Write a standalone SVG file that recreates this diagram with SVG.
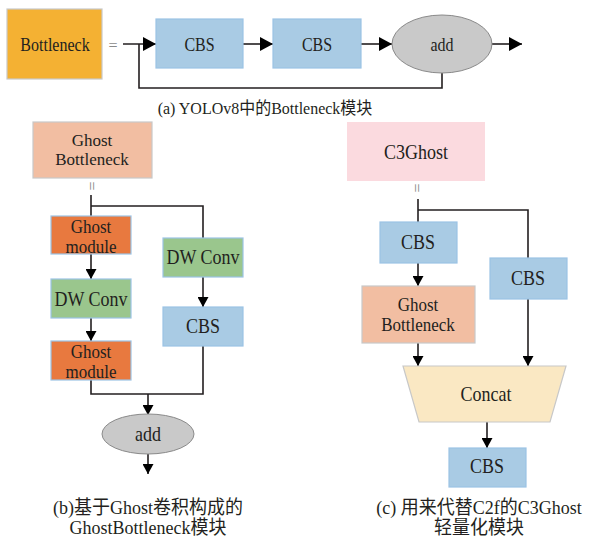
<svg xmlns="http://www.w3.org/2000/svg" width="606" height="540" viewBox="0 0 606 540">
<style>
text{font-family:"Liberation Serif","Times New Roman","DejaVu Serif",serif;fill:#231f20;text-anchor:middle}
.cjk{font-family:"Liberation Serif","Noto Sans CJK SC",serif}
.s16{font-size:16px}
.s18{font-size:18px}
.s17{font-size:17px}
.eq{fill:#8a8a8a;font-size:16px}
.cbs{fill:#a9cbe4;stroke:#9cc3e5;stroke-width:1.2}
.gm{fill:#e8793f;stroke:#9cc3e5;stroke-width:1.2}
.dw{fill:#9ac68d;stroke:#9cc3e5;stroke-width:1.2}
.gb{fill:#f2bea2;stroke:#c8c8c8;stroke-width:1.2}
.add{fill:#c9c9c9;stroke:#8a8a8a;stroke-width:1}
.ln{fill:none;stroke:#231f20;stroke-width:1.6}
</style>
<defs>
<marker id="ab" markerUnits="userSpaceOnUse" markerWidth="14" markerHeight="14" refX="13" refY="7" orient="auto"><path d="M0,0 L13,7 L0,14 Z" fill="#000"/></marker>
<marker id="as" markerUnits="userSpaceOnUse" markerWidth="11" markerHeight="11" refX="10" refY="5.5" orient="auto"><path d="M0,0 L10,5.5 L0,11 Z" fill="#000"/></marker>
</defs>
<rect width="606" height="540" fill="#fff"/>

<g id="connectors">
<path class="ln" d="M123,44 H156" marker-end="url(#ab)"/>
<path class="ln" d="M442,73 V88 H139 V44"/>
<path class="ln" d="M243,44 H273" marker-end="url(#ab)"/>
<path class="ln" d="M361,44 H392" marker-end="url(#ab)"/>
<path class="ln" d="M492,44 H522" marker-end="url(#ab)"/>

<path class="ln" d="M91,195 V216"/>
<path class="ln" d="M91,206 H203 V238"/>
<path class="ln" d="M91,254 V279" marker-end="url(#as)"/>
<path class="ln" d="M203,277 V307" marker-end="url(#as)"/>
<path class="ln" d="M91,318 V341" marker-end="url(#as)"/>
<path class="ln" d="M91,380 V394 H203 V346"/>
<path class="ln" d="M148,394 V415" marker-end="url(#as)"/>
<path class="ln" d="M148,454 V474" marker-end="url(#as)"/>

<path class="ln" d="M418,199 V222"/>
<path class="ln" d="M418,210 H528 V258"/>
<path class="ln" d="M418,263 V286" marker-end="url(#as)"/>
<path class="ln" d="M418,343 V366" marker-end="url(#as)"/>
<path class="ln" d="M528,299 V366" marker-end="url(#as)"/>
<path class="ln" d="M487,422 V448" marker-end="url(#as)"/>
</g>

<g id="bottleneck"><rect x="7" y="9" width="95" height="70" fill="#f4b133" stroke="#c8c8c8" stroke-width="1.2"/><text class="s16" transform="translate(55,50.5) scale(1,1.2)">Bottleneck</text></g>
<text class="eq" x="113" y="51">=</text>
<g id="cbs-a1"><rect class="cbs" x="156" y="19" width="87" height="49"/><text class="s16" transform="translate(199.5,50.5) scale(1,1.2)">CBS</text></g>
<g id="cbs-a2"><rect class="cbs" x="273" y="19" width="88" height="49"/><text class="s16" transform="translate(317,50.5) scale(1,1.2)">CBS</text></g>
<g id="add-a"><ellipse class="add" cx="442" cy="44" rx="50" ry="29"/><text class="s16" transform="translate(442,50.5) scale(1,1.2)">add</text></g>
<text class="s16 cjk" transform="translate(265,114) scale(1,1.1)">(a) YOLOv8中的Bottleneck模块</text>

<g id="ghost-bottleneck-b"><rect class="gb" x="33" y="122" width="119" height="56"/><text class="s17" x="92" y="146">Ghost</text><text class="s17" x="92" y="165">Bottleneck</text></g>
<text class="eq" transform="translate(91,186) rotate(90)" y="5">=</text>
<g id="ghost-module-1"><rect class="gm" x="51" y="216" width="80" height="38"/><text class="s17" transform="translate(91,232.5) scale(1,1.15)">Ghost</text><text class="s17" transform="translate(91,252.5) scale(1,1.15)">module</text></g>
<g id="dwconv-left"><rect class="dw" x="51" y="279" width="80" height="39"/><text class="s18" transform="translate(91,306) scale(1,1.15)">DW Conv</text></g>
<g id="ghost-module-2"><rect class="gm" x="51" y="341" width="80" height="39"/><text class="s17" transform="translate(91,357.5) scale(1,1.15)">Ghost</text><text class="s17" transform="translate(91,377.5) scale(1,1.15)">module</text></g>
<g id="dwconv-right"><rect class="dw" x="163" y="238" width="80" height="39"/><text class="s18" transform="translate(203,264) scale(1,1.15)">DW Conv</text></g>
<g id="cbs-b"><rect class="cbs" x="163" y="307" width="80" height="39"/><text class="s18" transform="translate(203,333) scale(1,1.15)">CBS</text></g>
<g id="add-b"><ellipse class="add" cx="148" cy="434" rx="46" ry="20"/><text class="s18" transform="translate(148,440.5) scale(1,1.15)">add</text></g>
<text class="s18 cjk" transform="translate(148,513.5) scale(1,1.05)">(b)基于Ghost卷积构成的</text>
<text class="s18 cjk" transform="translate(148,534) scale(1,1.05)">GhostBottleneck模块</text>

<g id="c3ghost"><rect x="347" y="122" width="138" height="59" fill="#fbdadf"/><text class="s18" transform="translate(416,159) scale(1,1.15)">C3Ghost</text></g>
<text class="eq" transform="translate(416,188) rotate(90)" y="5">=</text>
<g id="cbs-c1"><rect class="cbs" x="380" y="222" width="77" height="41"/><text class="s18" transform="translate(418,249) scale(1,1.15)">CBS</text></g>
<g id="cbs-c2"><rect class="cbs" x="490" y="258" width="77" height="41"/><text class="s18" transform="translate(528,285) scale(1,1.15)">CBS</text></g>
<g id="ghost-bottleneck-c"><rect class="gb" x="362" y="286" width="113" height="57"/><text class="s17" transform="translate(418,311) scale(1,1.15)">Ghost</text><text class="s17" transform="translate(418,331) scale(1,1.15)">Bottleneck</text></g>
<g id="concat"><path d="M403,366 H566 L550,422 H419 Z" fill="#fae8c3" stroke="#c8c8c8" stroke-width="1.2"/><text class="s18" transform="translate(486,401) scale(1,1.15)">Concat</text></g>
<g id="cbs-c3"><rect class="cbs" x="449" y="448" width="77" height="39"/><text class="s18" transform="translate(487,473) scale(1,1.15)">CBS</text></g>
<text class="s18 cjk" transform="translate(479,513.5) scale(1,1.05)">(c) 用来代替C2f的C3Ghost</text>
<text class="s18 cjk" transform="translate(479,534) scale(1,1.05)">轻量化模块</text>
</svg>
